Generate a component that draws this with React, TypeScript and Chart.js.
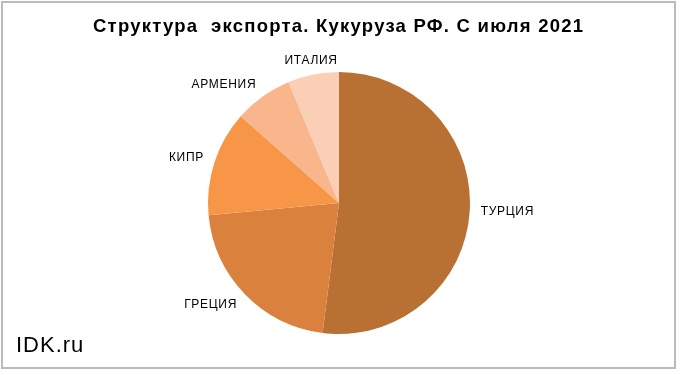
import React, { useEffect, useRef } from "react";
import { Chart, registerables } from "chart.js";

Chart.register(...registerables);

const categories = ["ТУРЦИЯ", "ГРЕЦИЯ", "КИПР", "АРМЕНИЯ", "ИТАЛИЯ"];
const shares = [52.0, 21.5, 13.0, 7.2, 6.3];
const colors = ["#B97133", "#DA823D", "#F79646", "#F9B58C", "#FBCEB6"];
const titleText = "Структура  экспорта. Кукуруза РФ. С июля 2021";
const watermark = "IDK.ru";

const decorPlugin = {
  id: "decor",
  beforeDraw(chart: any) {
    const ctx = chart.ctx;
    ctx.save();
    ctx.fillStyle = "#ffffff";
    ctx.fillRect(0, 0, chart.width, chart.height);
    ctx.restore();
  },
  afterDraw(chart: any) {
    const ctx = chart.ctx;
    ctx.save();
    // frame
    ctx.strokeStyle = "#BBBBBB";
    ctx.lineWidth = 2;
    ctx.strokeRect(2, 2, 673, 366);
    // title
    ctx.fillStyle = "#000000";
    ctx.font = "bold 18.5px 'Liberation Sans', Arial, sans-serif";
    (ctx as any).letterSpacing = "0px";
    ctx.textAlign = "left";
    ctx.textBaseline = "alphabetic";
    const natural = ctx.measureText(titleText).width;
    const targetW = 490;
    const sp = Math.max(0, (targetW - natural) / (titleText.length - 1));
    (ctx as any).letterSpacing = sp + "px";
    ctx.fillText(titleText, 338 - targetW / 2, 32);
    // watermark
    ctx.font = "22px 'Liberation Sans', Arial, sans-serif";
    (ctx as any).letterSpacing = "1px";
    ctx.fillText(watermark, 16, 352);
    // labels
    const meta = chart.getDatasetMeta(0);
    ctx.font = "12px 'Liberation Sans', Arial, sans-serif";
    (ctx as any).letterSpacing = "0.7px";
    meta.data.forEach((arc: any, i: number) => {
      const mid = (arc.startAngle + arc.endAngle) / 2;
      const dx = Math.cos(mid);
      const dy = Math.sin(mid);
      const R = arc.outerRadius + 11;
      const ax = arc.x + dx * R;
      const ay = arc.y + dy * R + dy * 3.5;
      ctx.textAlign = dx > 0.3 ? "left" : dx < -0.3 ? "right" : "center";
      ctx.textBaseline = "middle";
      ctx.fillText(categories[i], ax, ay);
    });
    ctx.restore();
  },
};

export default function App() {
  const ref = useRef<HTMLCanvasElement>(null);
  useEffect(() => {
    if (!ref.current) return;
    const chart = new Chart(ref.current, {
      type: "pie",
      data: {
        labels: categories,
        datasets: [
          {
            data: shares,
            backgroundColor: colors,
            borderWidth: 0,
          },
        ],
      },
      options: {
        responsive: false,
        animation: false,
        layout: { padding: { top: 72, bottom: 41, left: 208, right: 210 } },
        plugins: {
          legend: { display: false },
          tooltip: { enabled: false },
          title: { display: false },
        },
      },
      plugins: [decorPlugin],
    });
    return () => chart.destroy();
  }, []);
  return (
    <div style={{ position: "fixed", left: 0, top: 0, width: 680, height: 375 }}>
      <canvas ref={ref} width={680} height={375} />
    </div>
  );
}
